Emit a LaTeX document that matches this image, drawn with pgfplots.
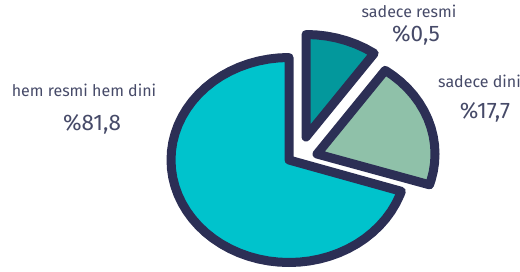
\documentclass[border=0pt]{standalone}
\usepackage{pgfplots}
\pgfplotsset{compat=1.18}
\usepackage{fontspec}
\setmainfont{Fira Sans}
\definecolor{navy}{HTML}{2C2F55}
\definecolor{bigc}{HTML}{00C3CC}
\definecolor{darkc}{HTML}{03989C}
\definecolor{greenc}{HTML}{8FC1A9}
\definecolor{txt}{HTML}{464A68}
\begin{document}
\begin{tikzpicture}
\useasboundingbox (0,0) rectangle (520pt,271pt);
\begin{axis}[at={(0,0)}, anchor=south west, width=520pt, height=271pt,
  scale only axis, hide axis, clip=false,
  xmin=-2.4492, xmax=1.9576, ymin=-1.0829, ymax=1.5610]
% hem resmi hem dini (drawn angles 90 -> 342.2)
\addplot[data cs=polar, draw=navy, fill=bigc, line width=9pt, line join=round, mark=none]
coordinates {(0,0) (90,1) (95,1) (100,1) (105,1) (110,1) (115,1) (120,1) (125,1) (130,1) (135,1)
(140,1) (145,1) (150,1) (155,1) (160,1) (165,1) (170,1) (175,1) (180,1) (185,1) (190,1)
(195,1) (200,1) (205,1) (210,1) (215,1) (220,1) (225,1) (230,1) (235,1) (240,1) (245,1)
(250,1) (255,1) (260,1) (265,1) (270,1) (275,1) (280,1) (285,1) (290,1) (295,1) (300,1)
(305,1) (310,1) (315,1) (320,1) (325,1) (330,1) (335,1) (340,1) (342.2,1)} -- cycle;
% sadece resmi (drawn angles 54.7 -> 90)
\addplot[data cs=polar, draw=navy, fill=darkc, line width=9pt, line join=round, mark=none, xshift=17pt, yshift=23pt]
coordinates {(0,0) (54.7,1) (60,1) (65,1) (70,1) (75,1) (80,1) (85,1) (90,1)} -- cycle;
% sadece dini (drawn angles -17.5 -> 54.7)
\addplot[data cs=polar, draw=navy, fill=greenc, line width=9pt, line join=round, mark=none, xshift=28pt, yshift=6pt]
coordinates {(0,0) (-17.5,1) (-15,1) (-10,1) (-5,1) (0,1) (5,1) (10,1) (15,1) (20,1) (25,1)
(30,1) (35,1) (40,1) (45,1) (50,1) (54.7,1)} -- cycle;
\end{axis}
\node[txt, font=\fontsize{16}{19}\selectfont] at (84pt,181pt) {hem resmi hem dini};
\node[txt, font=\fontsize{22.5}{26}\selectfont] at (92pt,147pt) {\%81,8};
\node[txt, font=\fontsize{16}{19}\selectfont] at (409pt,260pt) {sadece resmi};
\node[txt, font=\fontsize{22.5}{26}\selectfont] at (416pt,236pt) {\%0,5};
\node[txt, font=\fontsize{16}{19}\selectfont, anchor=west, inner sep=0pt] at (438pt,190pt) {sadece dini};
\node[txt, font=\fontsize{22.5}{26}\selectfont] at (485pt,159pt) {\%17,7};
\end{tikzpicture}
\end{document}
